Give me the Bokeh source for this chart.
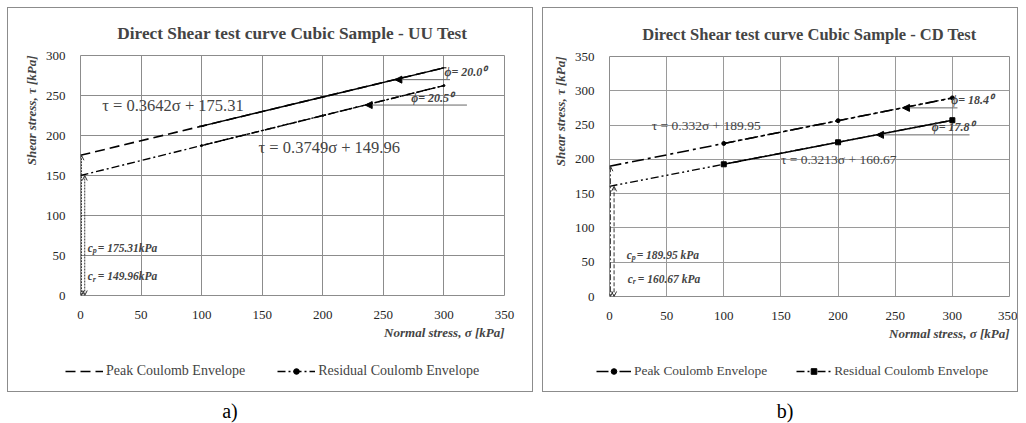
import math
from bokeh.plotting import figure
from bokeh.models import (Range1d, Label, Legend, LegendItem, Arrow, NormalHead,
                          OpenHead, Div, FixedTicker, Title)
from bokeh.layouts import row, column
from bokeh.embed import file_html
from bokeh.resources import INLINE

# ---------------- data ----------------
normal_stress = [100, 200, 300]
x_ticks = [0, 50, 100, 150, 200, 250, 300, 350]

uu_title = "Direct Shear test curve Cubic Sample - UU Test"
uu_y_ticks = [0, 50, 100, 150, 200, 250, 300]
uu_peak = [211.7, 248.1, 284.6]
uu_residual = [187.4, 224.9, 262.4]
uu_peak_fit = [0.3642, 175.31]
uu_residual_fit = [0.3749, 149.96]
uu_phi = ["20.0", "20.5"]
uu_c_labels = ["175.31kPa", "149.96kPa"]

cd_title = "Direct Shear test curve Cubic Sample - CD Test"
cd_y_ticks = [0, 50, 100, 150, 200, 250, 300, 350]
cd_peak = [223.2, 256.4, 289.6]
cd_residual = [192.8, 224.9, 257.1]
cd_peak_fit = [0.332, 189.95]
cd_residual_fit = [0.3213, 160.67]
cd_phi = ["18.4", "17.8"]
cd_c_labels = ["189.95 kPa", "160.67 kPa"]

series_names = ["Peak Coulomb Envelope", "Residual Coulomb Envelope"]
x_label = "Normal stress, σ [kPa]"
y_label = "Shear stress, τ [kPa]"
captions = ["a)", "b)"]

SERIF = "Liberation Serif"
GRID = "#8c8c8c"


def fit_y(fit, x):
    return fit[0] * x + fit[1]


def eq_text(fit):
    return "τ = %sσ + %s" % (fit[0], fit[1])


def build(cfg):
    p = figure(width=cfg["w"], height=cfg["h"], output_backend="svg",
               toolbar_location=None,
               x_range=Range1d(0, 350), y_range=Range1d(0, cfg["y_max"]),
               min_border_left=cfg["mb"][0], min_border_right=cfg["mb"][1],
               min_border_top=cfg["mb"][2], min_border_bottom=cfg["mb"][3])
    p.title.text = cfg["title"]
    p.title.align = "center"
    p.title.offset = cfg["title_offset"]
    p.title.text_font = SERIF
    p.title.text_font_size = cfg["title_size"]
    p.title.text_font_style = "bold"
    p.title.standoff = cfg["title_standoff"]

    p.outline_line_color = GRID
    p.outline_line_width = 1
    for ax in (p.xaxis[0], p.yaxis[0]):
        ax.axis_line_color = None
        ax.major_tick_line_color = None
        ax.minor_tick_line_color = None
        ax.major_label_text_font = SERIF
        ax.major_label_text_font_size = cfg["tick_size"]
        ax.major_label_text_color = "#262626"
        ax.major_label_standoff = 9
    p.xaxis.ticker = FixedTicker(ticks=x_ticks)
    p.yaxis.ticker = FixedTicker(ticks=cfg["y_ticks"])
    p.xgrid.grid_line_color = cfg["grid"]
    p.ygrid.grid_line_color = cfg["grid"]
    p.xgrid.grid_line_width = 1
    p.ygrid.grid_line_width = 1

    # axis titles (right / top aligned like the original)
    p.add_layout(Title(text=x_label, align="right", text_font=SERIF,
                       text_font_size="13px", text_font_style="bold italic",
                       standoff=3), "below")
    p.add_layout(Title(text=y_label, align="right", text_font=SERIF,
                       text_font_size="13px", text_font_style="bold italic",
                       standoff=7), "left")

    pk_fit, rs_fit = cfg["peak_fit"], cfg["res_fit"]
    xs_fit = [0] + normal_stress
    p.line(xs_fit, [fit_y(pk_fit, x) for x in xs_fit], line_color="black",
           line_width=1.6, line_dash=cfg["peak_dash"])
    p.line(xs_fit, [fit_y(rs_fit, x) for x in xs_fit], line_color="black",
           line_width=1.4, line_dash=cfg["res_dash"])
    p.line(normal_stress, cfg["peak"], line_color="black", line_width=1.4,
           line_dash=cfg["peak_data_dash"])
    p.line(normal_stress, cfg["res"], line_color="black", line_width=1.4,
           line_dash=cfg["res_data_dash"])
    p.scatter(normal_stress, cfg["peak"], marker=cfg["peak_marker"],
              size=cfg["peak_msize"], color="black")
    p.scatter(normal_stress, cfg["res"], marker=cfg["res_marker"],
              size=cfg["res_msize"], color="black")

    # cohesion arrows
    for fit, xv, dash in ((pk_fit, cfg["v_x"][0], cfg["v_dash"][0]),
                          (rs_fit, cfg["v_x"][1], cfg["v_dash"][1])):
        p.add_layout(Arrow(x_start=xv, y_start=fit[1], x_end=xv, y_end=0,
                           line_width=1, line_dash=dash, line_color="#333",
                           start=OpenHead(size=5, line_width=1, line_color="#333"),
                           end=OpenHead(size=5, line_width=1, line_color="#333")))

    # friction angle arrows
    for fit, (xh, xr), phi, (lx, dy) in ((pk_fit, cfg["a_pk"], cfg["phi"][0], cfg["phi_pos"][0]),
                                         (rs_fit, cfg["a_rs"], cfg["phi"][1], cfg["phi_pos"][1])):
        yv = fit_y(fit, xh)
        p.add_layout(Arrow(x_start=xr, y_start=yv, x_end=xh, y_end=yv,
                           line_width=1, line_color="#666",
                           end=NormalHead(size=7, line_color="black", fill_color="black")))
        p.add_layout(Label(x=lx, y=yv + dy, text="ϕ= %s⁰" % phi, text_font=SERIF,
                           text_font_size="12px", text_font_style="bold italic",
                           text_baseline="bottom", text_align="left"))

    # equations
    for fit, (ex, ey) in ((pk_fit, cfg["eq_pos"][0]), (rs_fit, cfg["eq_pos"][1])):
        p.add_layout(Label(x=ex, y=ey, text=eq_text(fit), text_font=SERIF,
                           text_font_size=cfg["eq_size"], text_baseline="middle",
                           text_align="left"))

    # cohesion labels
    for sub, txt, (cx, cy) in (("p", cfg["c_labels"][0], cfg["c_pos"][0]),
                               ("r", cfg["c_labels"][1], cfg["c_pos"][1])):
        p.add_layout(Label(x=cx, y=cy, text="c", text_font=SERIF, text_font_size="11.5px",
                           text_font_style="bold italic", text_baseline="middle"))
        p.add_layout(Label(x=cx, y=cy, x_offset=5, y_offset=-3, text=sub, text_font=SERIF,
                           text_font_size="8px", text_font_style="bold italic",
                           text_baseline="middle"))
        p.add_layout(Label(x=cx, y=cy, x_offset=10, text="= " + txt, text_font=SERIF,
                           text_font_size="11.5px", text_font_style="bold italic",
                           text_baseline="middle"))

    # legend strip: same styles, sample glyphs only (data kept outside the view)
    lg = figure(width=cfg["w"], height=cfg["leg_h"], output_backend="svg",
                toolbar_location=None, x_axis_type=None, y_axis_type=None,
                x_range=Range1d(0, 1), y_range=Range1d(0, 1),
                min_border=0, outline_line_color=None)
    lg.xgrid.visible = False
    lg.ygrid.visible = False
    if "frame_align" in lg.properties():
        lg.frame_align = False
        leg_loc = cfg["leg_loc"]
    else:
        leg_loc = "center"
    off = [5, 6]
    r1 = lg.line(off, off, line_color="black", line_width=1.6, line_dash=cfg["peak_dash"])
    m1 = lg.scatter(off, off, marker=cfg["peak_marker"], size=cfg["peak_msize"] + 1,
                    color="black")
    r2 = lg.line(off, off, line_color="black", line_width=1.4, line_dash=cfg["res_dash"])
    m2 = lg.scatter(off, off, marker=cfg["res_marker"], size=cfg["res_msize"] + 1,
                    color="black")
    legend = Legend(items=[LegendItem(label=series_names[0], renderers=[r1, m1], index=0),
                           LegendItem(label=series_names[1], renderers=[r2, m2], index=0)],
                    orientation="horizontal", location=leg_loc,
                    glyph_width=cfg["glyph_w"], glyph_height=14,
                    label_text_font=SERIF, label_text_font_size=cfg["leg_size"],
                    spacing=cfg["leg_spacing"], padding=0, margin=0, label_standoff=3,
                    border_line_color=None, background_fill_alpha=0)
    lg.add_layout(legend)

    boxed = column(p, lg, spacing=0, styles={"border": "1px solid #8c8c8c"})
    cap = Div(text=cfg["caption"], width=cfg["cap_w"], height=22,
              styles={"text-align": "center", "font-family": SERIF,
                      "font-size": "20px"})
    return column(boxed, cap, spacing=0)


uu_cfg = dict(
    w=524, h=343, leg_h=40, mb=(72, 28, 47, 56), title=uu_title, title_offset=-21,
    title_size="17.3px", title_standoff=26, tick_size="13px", y_max=300,
    y_ticks=uu_y_ticks, grid=GRID,
    peak=uu_peak, res=uu_residual, peak_fit=uu_peak_fit, res_fit=uu_residual_fit,
    peak_dash="10 5", res_dash="8 3 2 3", peak_data_dash="solid", res_data_dash="7 2 2 2",
    peak_marker="dash", peak_msize=5, res_marker="circle", res_msize=2,
    v_x=(0.8, 3.5), v_dash=("2 1", "2 1"),
    a_pk=(259.5, 305), a_rs=(235, 319), phi=uu_phi,
    phi_pos=((300.5, 0.5), (273, 0.5)),
    eq_pos=((18, 237), (147, 185)), eq_size="16.5px",
    c_labels=uu_c_labels, c_pos=((6, 60), (6, 24)),
    glyph_w=38, leg_spacing=32, leg_size="14px", leg_loc=(57, 12),
    caption=captions[0], cap_w=436,
)

cd_cfg = dict(
    w=474, h=343, leg_h=40, mb=(66, 8, 48, 55), title=cd_title, title_offset=-23,
    title_size="16.5px", title_standoff=26, tick_size="13px", y_max=350,
    y_ticks=cd_y_ticks, grid="#9a9a9a",
    peak=cd_peak, res=cd_residual, peak_fit=cd_peak_fit, res_fit=cd_residual_fit,
    peak_dash="12 4 3 4", res_dash="8 3 2 3 2 3", peak_data_dash="12 4 3 4",
    res_data_dash="solid",
    peak_marker="circle", peak_msize=4, res_marker="square", res_msize=5,
    v_x=(0.8, 4), v_dash=("6 2 2 2", "4 2"),
    a_pk=(256.4, 304.5), a_rs=(233.6, 315), phi=cd_phi,
    phi_pos=((299, 1), (282, 1)),
    eq_pos=((37, 250), (150, 200)), eq_size="13.5px",
    c_labels=cd_c_labels, c_pos=((15, 61), (16, 26)),
    glyph_w=35, leg_spacing=29, leg_size="13.4px", leg_loc=(53, 12),
    caption=captions[1], cap_w=476,
)

layout = row(build(uu_cfg), build(cd_cfg), spacing=9, margin=(7, 0, 0, 7))
open("out.html", "w").write(file_html(layout, INLINE))
